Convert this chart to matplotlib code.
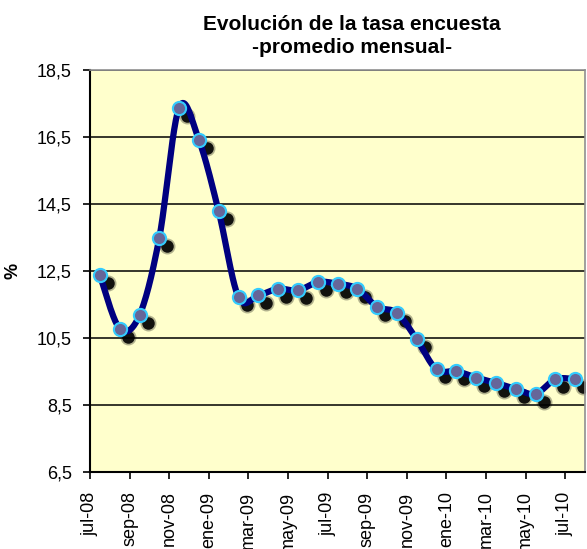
import numpy as np
import matplotlib
matplotlib.use("Agg")
import matplotlib.pyplot as plt
from matplotlib.transforms import offset_copy

plt.rcParams['font.family'] = ['Liberation Sans', 'DejaVu Sans']

# tasa encuesta, promedio mensual (jul-08 .. jul-10)
tasa = [12.37, 10.78, 11.18, 13.49, 17.38, 16.41, 14.28, 11.72, 11.77, 11.97,
        11.92, 12.17, 12.12, 11.97, 11.43, 11.25, 10.46, 9.56, 9.51, 9.32,
        9.16, 8.98, 8.83, 9.27, 9.27]
etiquetas_x = ['jul-08', 'sep-08', 'nov-08', 'ene-09', 'mar-09', 'may-09', 'jul-09',
               'sep-09', 'nov-09', 'ene-10', 'mar-10', 'may-10', 'jul-10']
valores_y = [6.5, 8.5, 10.5, 12.5, 14.5, 16.5, 18.5]


def suavizar(x, y, n=25):
    # curva suavizada tipo excel (bezier con tangentes catmull-rom)
    pts = np.column_stack([x, y])
    p = np.vstack([pts[0], pts, pts[-1]])
    t = np.linspace(0, 1, n)[:, None]
    tramos = []
    for i in range(1, len(p) - 2):
        p0, p1, p2, p3 = p[i - 1], p[i], p[i + 1], p[i + 2]
        c1 = p1 + (p2 - p0) / 6
        c2 = p2 - (p3 - p1) / 6
        tramos.append((1 - t)**3 * p1 + 3 * (1 - t)**2 * t * c1 + 3 * (1 - t) * t**2 * c2 + t**3 * p2)
    return np.vstack(tramos)


x = np.arange(len(tasa)) + 0.5
y = np.array(tasa)
curva = suavizar(x, y)

fig = plt.figure(figsize=(5.87, 5.49), dpi=100)
ax = fig.add_axes([90/587, 1 - 472/549, 495/587, 402/549])
ax.set_facecolor('#FFFFCC')

ax.set_xlim(0, len(tasa))
ax.set_ylim(6.5, 18.5)
ax.set_yticks(valores_y)
ax.set_yticklabels([f'{v:.1f}'.replace('.', ',') for v in valores_y])
ax.set_xticks(np.arange(0, len(tasa), 2))
ax.set_xticklabels(etiquetas_x, rotation=90, va='top')
ax.tick_params(axis='both', labelsize=13, length=5, width=1.2, color='black')
ax.tick_params(axis='x', pad=9)
ax.tick_params(axis='y', pad=8)

ax.yaxis.grid(True, color='black', lw=1.1)
ax.set_axisbelow(True)

for s in ['left', 'bottom']:
    ax.spines[s].set_color('black')
    ax.spines[s].set_linewidth(1.5)
for s in ['top', 'right']:
    ax.spines[s].set_color('#909090')
    ax.spines[s].set_linewidth(1.2)

sombra = offset_copy(ax.transData, fig=fig, x=8, y=-8, units='dots')
ax.plot(x, y, 'o', ms=11.5, color='black', alpha=0.3, mec='none', transform=sombra, zorder=2)
ax.plot(x, y, 'o', ms=9, color='black', alpha=0.9, mec='none', transform=sombra, zorder=2)

ax.plot(curva[:, 0], curva[:, 1], color='#000080', lw=4.5, zorder=3, solid_capstyle='round')
ax.plot(x, y, 'o', ms=9.5, mfc='#666699', mec='#33CCFF', mew=1.5, ls='none', zorder=4)

ax.yaxis.set_label_coords(-(90 - 13) / 495, 0.5)
ax.set_ylabel('%', fontsize=13, fontweight='bold', va='center')

fig.text(0.5997, 1 - 30/549, 'Evolución de la tasa encuesta',
         ha='center', va='baseline', fontsize=15, fontweight='bold')
fig.text(0.5997, 1 - 53/549, '-promedio mensual-',
         ha='center', va='baseline', fontsize=15, fontweight='bold')

fig.savefig('out.png', dpi=100)
